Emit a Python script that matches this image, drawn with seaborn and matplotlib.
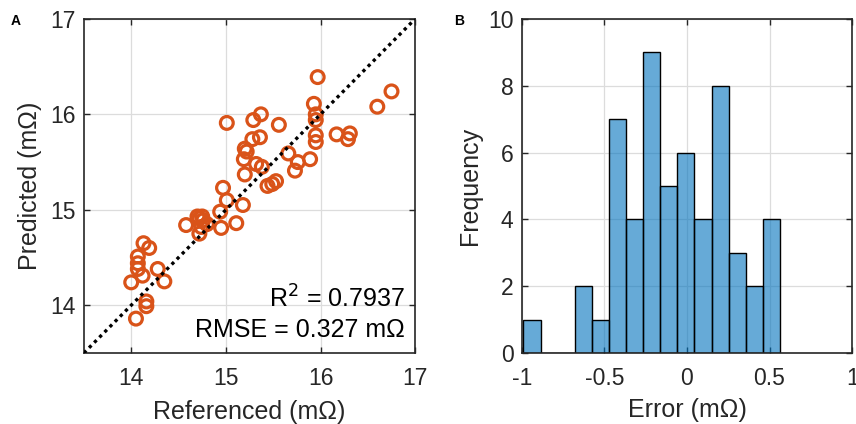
import numpy as np
import pandas as pd
import matplotlib
matplotlib.use("Agg")
import matplotlib.pyplot as plt
import seaborn as sns

# Panel A: referenced vs predicted resistance (mOhm)
referenced = [15.97, 16.75, 16.60, 15.93, 15.95, 15.95, 15.01, 15.29, 15.37, 15.56,
              16.17, 16.31, 16.29, 15.95, 15.95, 15.28, 15.36, 15.20, 15.22, 15.19,
              15.66, 15.76, 15.89, 15.32, 15.38, 15.73, 15.20, 15.44, 15.49, 15.53,
              14.97, 15.01, 15.18, 14.94, 14.58, 14.72, 14.75, 14.76, 14.80, 14.74,
              14.72, 14.95, 15.11, 14.13, 14.19, 14.07, 14.07, 14.07, 14.12, 14.28,
              14.35, 14.00, 14.16, 14.16, 14.05, 14.70]
predicted = [16.39, 16.24, 16.08, 16.11, 16.00, 15.94, 15.91, 15.94, 16.00, 15.89,
             15.79, 15.80, 15.74, 15.78, 15.71, 15.74, 15.76, 15.64, 15.61, 15.53,
             15.59, 15.50, 15.53, 15.48, 15.45, 15.41, 15.37, 15.25, 15.27, 15.30,
             15.23, 15.10, 15.05, 14.98, 14.84, 14.91, 14.93, 14.89, 14.85, 14.82,
             14.75, 14.81, 14.86, 14.65, 14.60, 14.51, 14.44, 14.38, 14.31, 14.38,
             14.25, 14.24, 14.04, 13.99, 13.86, 14.93]
r2_text = "R$^2$ = 0.7937"
rmse_text = "RMSE = 0.327 m\u03a9"

# Panel B: histogram of prediction error
bin_edges = [-0.990, -0.886, -0.783, -0.679, -0.576, -0.472, -0.369, -0.265,
             -0.162, -0.058, 0.045, 0.149, 0.252, 0.356, 0.459, 0.563]
bin_counts = [1, 0, 0, 2, 1, 7, 4, 9, 5, 6, 4, 8, 3, 2, 4]

sns.set_theme(style="whitegrid")
plt.rcParams['font.family'] = ['Liberation Sans', 'DejaVu Sans']
plt.rcParams['axes.unicode_minus'] = False

text_col = "#262626"
fig = plt.figure(figsize=(8.56, 4.24), dpi=100)
ax1 = fig.add_axes([0.098, 0.1675, 0.387, 0.788])
ax2 = fig.add_axes([0.6095, 0.1675, 0.386, 0.788])

df = pd.DataFrame({"ref": referenced, "pred": predicted})
sns.scatterplot(data=df, x="ref", y="pred", ax=ax1, marker="o", s=85,
                facecolors="none", edgecolor="#D95319", linewidth=2.3, zorder=3)
ax1.plot([13.5, 17], [13.5, 17], linestyle=(0, (1, 1.2)), color="black",
         linewidth=2.4, zorder=4)
ax1.set_xlim(13.5, 17)
ax1.set_ylim(13.5, 17)
ax1.set_xticks([14, 15, 16, 17])
ax1.set_yticks([14, 15, 16, 17])
ax1.set_xlabel("Referenced (m\u03a9)", fontsize=18, color=text_col)
ax1.set_ylabel("Predicted (m\u03a9)", fontsize=18, color=text_col)
ax1.text(0.97, 0.135, r2_text, transform=ax1.transAxes, ha="right", va="baseline",
         fontsize=18, color="black")
ax1.text(0.97, 0.048, rmse_text, transform=ax1.transAxes, ha="right", va="baseline",
         fontsize=18, color="black")

centers = [(a + b) / 2 for a, b in zip(bin_edges[:-1], bin_edges[1:])]
sns.histplot(x=centers, weights=bin_counts, bins=bin_edges, ax=ax2,
             facecolor=(0.0, 0.447, 0.741, 0.6), edgecolor="black",
             linewidth=1.0, alpha=None, zorder=2)
ax2.set_xlim(-1, 1)
ax2.set_ylim(0, 10)
ax2.set_xticks([-1, -0.5, 0, 0.5, 1])
ax2.set_xticklabels(["-1", "-0.5", "0", "0.5", "1"])
ax2.set_yticks([0, 2, 4, 6, 8, 10])
ax2.set_xlabel("Error (m\u03a9)", fontsize=18, color=text_col)
ax2.set_ylabel("Frequency", fontsize=18, color=text_col)

for ax in (ax1, ax2):
    ax.set_facecolor("white")
    ax.grid(True, color="#dcdcdc", linewidth=0.9, zorder=1)
    ax.set_axisbelow(True)
    for sp in ax.spines.values():
        sp.set_color(text_col)
        sp.set_linewidth(1.2)
    ax.tick_params(axis="both", direction="in", length=4, width=1.0,
                   colors=text_col, labelsize=16.5, top=True, right=True,
                   bottom=True, left=True)
    ax.tick_params(axis="x", pad=10)
    ax.tick_params(axis="y", pad=6)
    ax.xaxis.label.set_va("center")
    ax.yaxis.label.set_va("center")

ax1.xaxis.set_label_coords(0.5, -0.177)
ax1.yaxis.set_label_coords(-0.163, 0.5)
ax2.xaxis.set_label_coords(0.5, -0.172)
ax2.yaxis.set_label_coords(-0.156, 0.5)

fig.text(0.012, 0.94, "A", fontsize=10, fontweight="bold", color="black")
fig.text(0.530, 0.94, "B", fontsize=10, fontweight="bold", color="black")

fig.savefig("out.png", dpi=100, facecolor="white")
